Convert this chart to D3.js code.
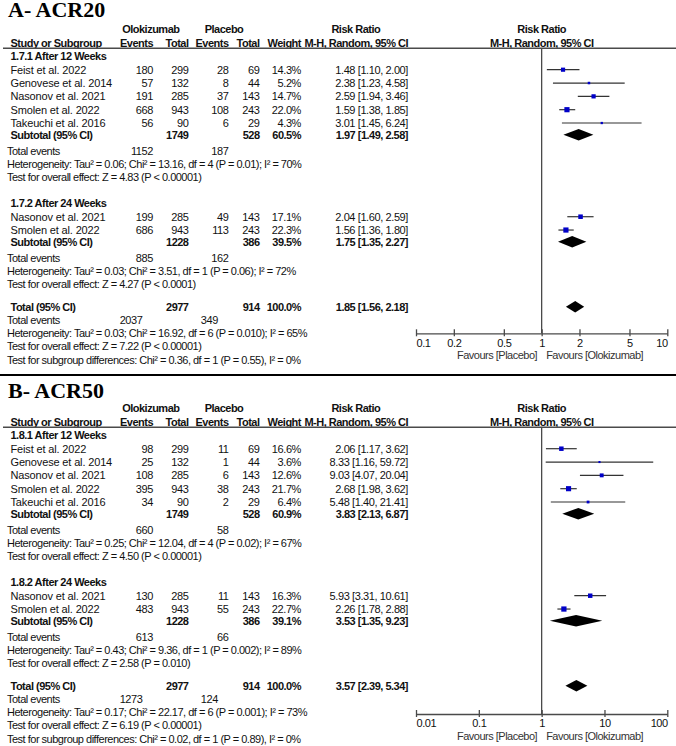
<!DOCTYPE html>
<html>
<head>
<meta charset="utf-8">
<script src="https://cdn.jsdelivr.net/npm/d3@7"></script>
<style>
  body { margin: 0; background: #fff; }
  text { font-family: 'Liberation Sans', Arial, sans-serif; font-size: 11px; fill: #111; }
  text.b { font-weight: bold; letter-spacing: -0.5px; }
  text.note { letter-spacing: -0.5px; }
  text.num { letter-spacing: -0.4px; }
  text.name { letter-spacing: -0.15px; }
</style>
</head>
<body>
<svg></svg>
<script>
// constants
const WIDTH = 676;
const HEIGHT = 746;
const ROW = 13.33;

// data rows: [study, olokizumab events, olokizumab total, placebo events, placebo total, weight %, RR, lower, upper]
const acr20Week12 = [
  ['Feist et al. 2022', 180, 299, 28, 69, 14.3, 1.48, 1.10, 2.00],
  ['Genovese et al. 2014', 57, 132, 8, 44, 5.2, 2.38, 1.23, 4.58],
  ['Nasonov et al. 2021', 191, 285, 37, 143, 14.7, 2.59, 1.94, 3.46],
  ['Smolen et al. 2022', 668, 943, 108, 243, 22.0, 1.59, 1.38, 1.85],
  ['Takeuchi et al. 2016', 56, 90, 6, 29, 4.3, 3.01, 1.45, 6.24]
];
const acr20Week24 = [
  ['Nasonov et al. 2021', 199, 285, 49, 143, 17.1, 2.04, 1.60, 2.59],
  ['Smolen et al. 2022', 686, 943, 113, 243, 22.3, 1.56, 1.36, 1.80]
];
// subtotal: [olokizumab total, placebo total, weight, RR, lower, upper, olokizumab events, placebo events]
const acr20Subtotals = [
  [1749, 528, 60.5, 1.97, 1.49, 2.58, 1152, 187],
  [1228, 386, 39.5, 1.75, 1.35, 2.27, 885, 162]
];
const acr20Overall = [2977, 914, 100.0, 1.85, 1.56, 2.18, 2037, 349];
const acr20Stats = [
  ['Heterogeneity: Tau² = 0.06; Chi² = 13.16, df = 4 (P = 0.01); I² = 70%', 'Test for overall effect: Z = 4.83 (P < 0.00001)'],
  ['Heterogeneity: Tau² = 0.03; Chi² = 3.51, df = 1 (P = 0.06); I² = 72%', 'Test for overall effect: Z = 4.27 (P < 0.0001)'],
  ['Heterogeneity: Tau² = 0.03; Chi² = 16.92, df = 6 (P = 0.010); I² = 65%', 'Test for overall effect: Z = 7.22 (P < 0.00001)',
   'Test for subgroup differences: Chi² = 0.36, df = 1 (P = 0.55), I² = 0%']
];
const acr20Ticks = [0.1, 0.2, 0.5, 1, 2, 5, 10];

const acr50Week12 = [
  ['Feist et al. 2022', 98, 299, 11, 69, 16.6, 2.06, 1.17, 3.62],
  ['Genovese et al. 2014', 25, 132, 1, 44, 3.6, 8.33, 1.16, 59.72],
  ['Nasonov et al. 2021', 108, 285, 6, 143, 12.6, 9.03, 4.07, 20.04],
  ['Smolen et al. 2022', 395, 943, 38, 243, 21.7, 2.68, 1.98, 3.62],
  ['Takeuchi et al. 2016', 34, 90, 2, 29, 6.4, 5.48, 1.40, 21.41]
];
const acr50Week24 = [
  ['Nasonov et al. 2021', 130, 285, 11, 143, 16.3, 5.93, 3.31, 10.61],
  ['Smolen et al. 2022', 483, 943, 55, 243, 22.7, 2.26, 1.78, 2.88]
];
const acr50Subtotals = [
  [1749, 528, 60.9, 3.83, 2.13, 6.87, 660, 58],
  [1228, 386, 39.1, 3.53, 1.35, 9.23, 613, 66]
];
const acr50Overall = [2977, 914, 100.0, 3.57, 2.39, 5.34, 1273, 124];
const acr50Stats = [
  ['Heterogeneity: Tau² = 0.25; Chi² = 12.04, df = 4 (P = 0.02); I² = 67%', 'Test for overall effect: Z = 4.50 (P < 0.00001)'],
  ['Heterogeneity: Tau² = 0.43; Chi² = 9.36, df = 1 (P = 0.002); I² = 89%', 'Test for overall effect: Z = 2.58 (P = 0.010)'],
  ['Heterogeneity: Tau² = 0.17; Chi² = 22.17, df = 6 (P = 0.001); I² = 73%', 'Test for overall effect: Z = 6.19 (P < 0.00001)',
   'Test for subgroup differences: Chi² = 0.02, df = 1 (P = 0.89), I² = 0%']
];
const acr50Ticks = [0.01, 0.1, 1, 10, 100];

// column positions
const COL = { name: 10.5, note: 7, oE: 153, oT: 188.5, pE: 228.5, pT: 259.5, w: 301, rr: 408 };
const PLOT = [416, 667.3];
const INK = '#4a4a4a';

const svg = d3.select('svg')
  .attr('width', WIDTH)
  .attr('height', HEIGHT);

const fmtRR = (r, l, u) => `${r.toFixed(2)} [${l.toFixed(2)}, ${u.toFixed(2)}]`;

function drawPanel(p){
  const g = svg.append('g').attr('transform', `translate(0, ${p.top})`);
  const x = d3.scaleLog().domain([p.ticks[0], p.ticks[p.ticks.length - 1]]).range(PLOT);

  const txt = (xx, y, s, anchor, cls) => g.append('text')
    .attr('class', cls)
    .attr('x', xx).attr('y', y).attr('dy', '0.35em')
    .attr('text-anchor', anchor)
    .text(s);

  // title
  g.append('text')
    .attr('x', 8).attr('y', p.titleY)
    .style('font-family', "'Liberation Serif', 'Times New Roman', serif")
    .style('font-size', '22px').style('font-weight', 'bold').style('fill', '#000')
    .text(p.title);

  // header
  txt(150.8, 29.3, 'Olokizumab', 'middle', 'b');
  txt(224, 29.3, 'Placebo', 'middle', 'b');
  txt(355.8, 29.3, 'Risk Ratio', 'middle', 'b');
  txt(541.7, 29.3, 'Risk Ratio', 'middle', 'b');
  txt(COL.name, 42.7, 'Study or Subgroup', 'start', 'b');
  txt(COL.oE, 42.7, 'Events', 'end', 'b');
  txt(COL.oT, 42.7, 'Total', 'end', 'b');
  txt(COL.pE, 42.7, 'Events', 'end', 'b');
  txt(COL.pT, 42.7, 'Total', 'end', 'b');
  txt(COL.w, 42.7, 'Weight', 'end', 'b');
  txt(COL.rr, 42.7, 'M-H, Random, 95% CI', 'end', 'b');
  txt(541.7, 42.7, 'M-H, Random, 95% CI', 'middle', 'b');
  g.append('line').attr('x1', 3).attr('x2', WIDTH).attr('y1', 48.3).attr('y2', 48.3)
    .attr('stroke', INK).attr('stroke-width', 1.4);

  const plot = g.append('g');
  const diamond = (y, s) => {
    const h = 5.8;
    plot.append('path')
      .attr('d', `M${x(s[4])},${y} L${x(s[3])},${y - h} L${x(s[5])},${y} L${x(s[3])},${y + h} Z`)
      .attr('fill', '#000');
  };

  let y = 56;
  p.groups.forEach((grp, gi) => {
    txt(COL.name, y, grp.head, 'start', 'b');
    y += 13.7;
    grp.rows.forEach(d => {
      txt(COL.name, y, d[0], 'start', 'name');
      txt(COL.oE, y, d[1], 'end', 'num');
      txt(COL.oT, y, d[2], 'end', 'num');
      txt(COL.pE, y, d[3], 'end', 'num');
      txt(COL.pT, y, d[4], 'end', 'num');
      txt(COL.w, y, d[5].toFixed(1) + '%', 'end', 'num');
      txt(COL.rr, y, fmtRR(d[6], d[7], d[8]), 'end', 'num');
      plot.append('line')
        .attr('x1', x(d[7])).attr('x2', x(d[8]))
        .attr('y1', y).attr('y2', y)
        .attr('stroke', '#333').attr('stroke-width', 1.2);
      const s = Math.max(2, Math.sqrt(d[5]) * 1.1);
      plot.append('rect')
        .attr('x', x(d[6]) - s / 2).attr('y', y - s / 2)
        .attr('width', s).attr('height', s)
        .attr('fill', '#0000c8');
      y += ROW;
    });
    y -= 1.6;
    const s = grp.sub;
    txt(COL.name, y, 'Subtotal (95% CI)', 'start', 'b');
    txt(COL.oT, y, s[0], 'end', 'b');
    txt(COL.pT, y, s[1], 'end', 'b');
    txt(COL.w, y, s[2].toFixed(1) + '%', 'end', 'b');
    txt(COL.rr, y, fmtRR(s[3], s[4], s[5]), 'end', 'b');
    diamond(y, s);
    y += 16;
    txt(COL.note, y, 'Total events', 'start', 'note');
    txt(COL.oE, y, s[6], 'end', 'num');
    txt(COL.pE, y, s[7], 'end', 'num');
    grp.stats.forEach(t => { y += ROW; txt(COL.note, y, t, 'start', 'note'); });
    y += gi < p.groups.length - 1 ? 25.6 : 22.3;
  });

  // overall
  const o = p.overall;
  txt(COL.name, y, 'Total (95% CI)', 'start', 'b');
  txt(COL.oT, y, o[0], 'end', 'b');
  txt(COL.pT, y, o[1], 'end', 'b');
  txt(COL.w, y, o[2].toFixed(1) + '%', 'end', 'b');
  txt(COL.rr, y, fmtRR(o[3], o[4], o[5]), 'end', 'b');
  diamond(y, o);
  y += 13;
  txt(COL.note, y, 'Total events', 'start', 'note');
  txt(COL.oE - 10.5, y, o[6], 'end', 'num');
  txt(COL.pE - 10.5, y, o[7], 'end', 'num');
  p.overallStats.forEach(t => { y += ROW; txt(COL.note, y, t, 'start', 'note'); });

  // null line and axis
  const axisY = p.axisY;
  g.append('line')
    .attr('x1', x(1)).attr('x2', x(1)).attr('y1', 48.3).attr('y2', axisY)
    .attr('stroke', INK).attr('stroke-width', 1.3);

  const axis = g.append('g')
    .attr('transform', `translate(0, ${axisY})`)
    .call(d3.axisBottom(x).tickValues(p.ticks).tickSize(3).tickSizeOuter(0).tickFormat(d => String(d)));
  axis.attr('font-family', null).attr('font-size', null);
  axis.select('.domain').attr('stroke', INK).attr('stroke-width', 1.3);
  axis.selectAll('.tick line').attr('y1', -4).attr('y2', 3).attr('stroke', INK).attr('stroke-width', 1.3);
  axis.selectAll('.tick text')
    .attr('class', 'num')
    .attr('y', 9.4).attr('dy', '0.35em')
    .attr('text-anchor', (d, i) => i === 0 ? 'start' : i === p.ticks.length - 1 ? 'end' : 'middle');

  txt(x(1) - 4.5, axisY + 22, 'Favours [Placebo]', 'end', 'note').style('fill', '#333');
  txt(x(1) + 4.5, axisY + 22, 'Favours [Olokizumab]', 'start', 'note').style('fill', '#333');
}

drawPanel({
  title: 'A- ACR20', top: 0, titleY: 17,
  groups: [
    { head: '1.7.1 After 12 Weeks', rows: acr20Week12, sub: acr20Subtotals[0], stats: acr20Stats[0] },
    { head: '1.7.2 After 24 Weeks', rows: acr20Week24, sub: acr20Subtotals[1], stats: acr20Stats[1] }
  ],
  overall: acr20Overall, overallStats: acr20Stats[2],
  ticks: acr20Ticks, axisY: 333.3
});

// panel separator
svg.append('line').attr('x1', 0).attr('x2', WIDTH).attr('y1', 375).attr('y2', 375)
  .attr('stroke', '#000').attr('stroke-width', 2);

drawPanel({
  title: 'B- ACR50', top: 379, titleY: 18.5,
  groups: [
    { head: '1.8.1 After 12 Weeks', rows: acr50Week12, sub: acr50Subtotals[0], stats: acr50Stats[0] },
    { head: '1.8.2 After 24 Weeks', rows: acr50Week24, sub: acr50Subtotals[1], stats: acr50Stats[1] }
  ],
  overall: acr50Overall, overallStats: acr50Stats[2],
  ticks: acr50Ticks, axisY: 335
});
</script>
</body>
</html>
